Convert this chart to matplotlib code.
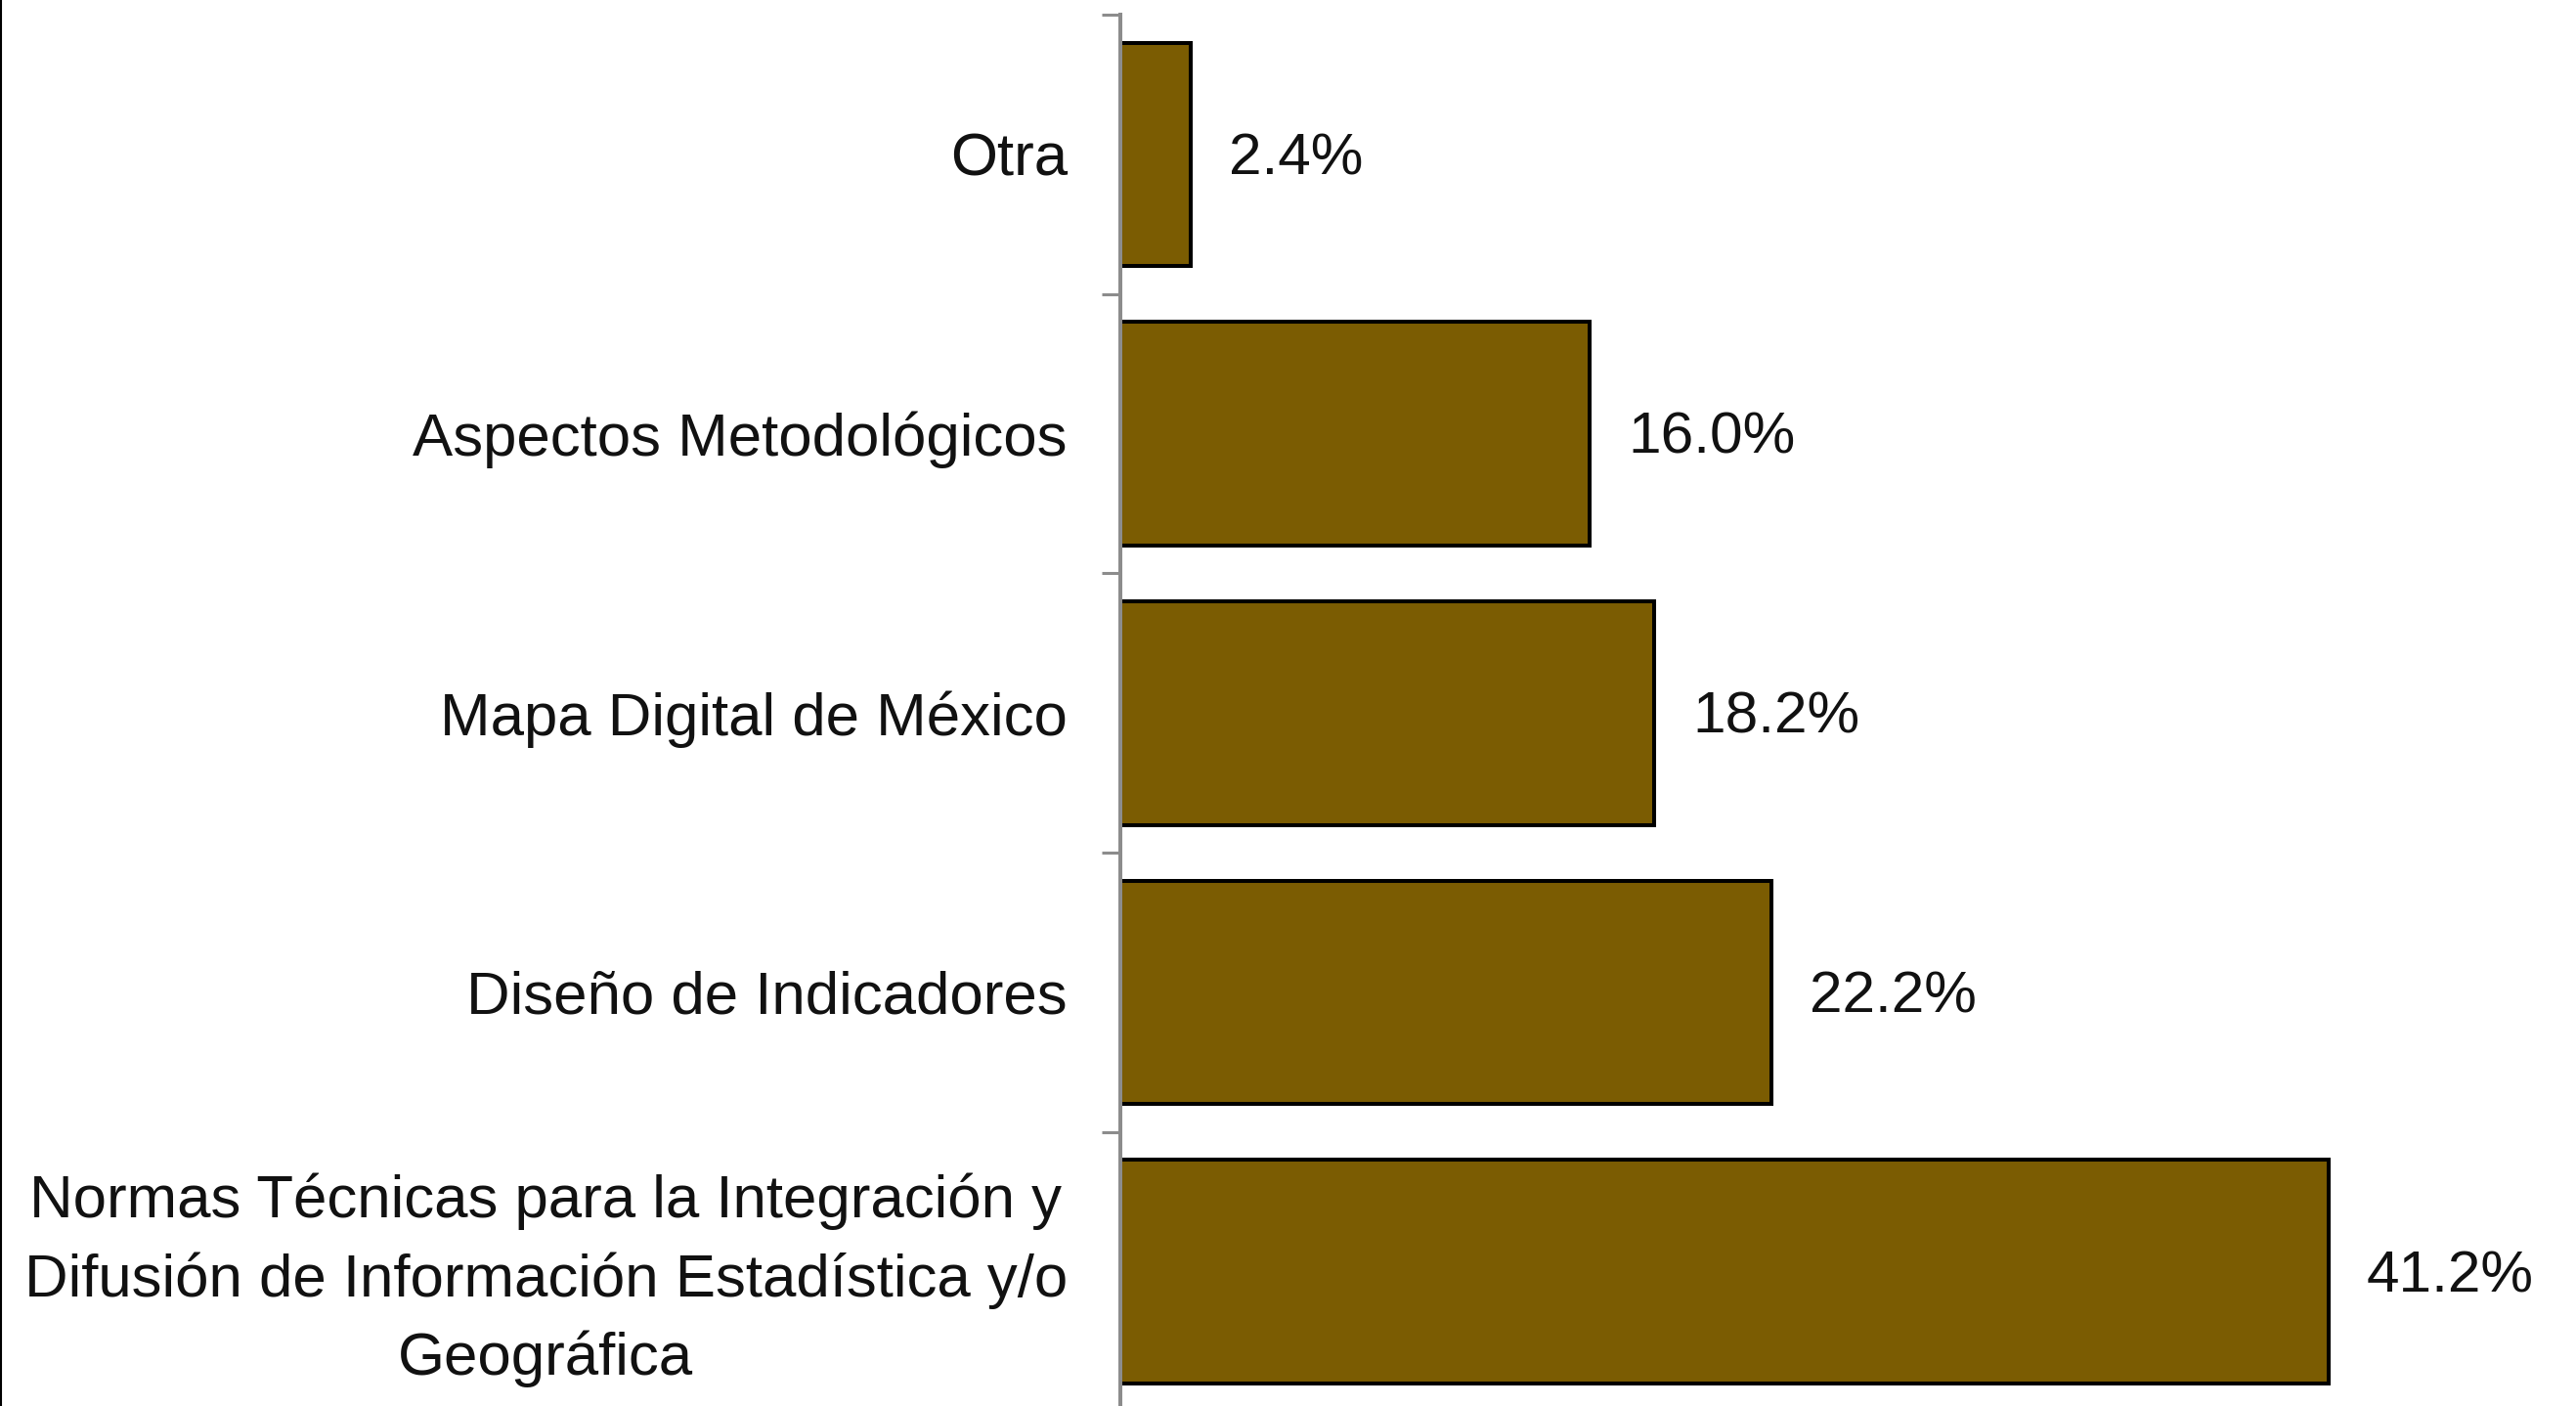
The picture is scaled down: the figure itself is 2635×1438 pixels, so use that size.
import matplotlib
matplotlib.use('Agg')
import matplotlib.pyplot as plt
from matplotlib.transforms import ScaledTranslation
import numpy as np

plt.rcParams['font.family'] = ['Liberation Sans', 'DejaVu Sans']

# datos (de arriba hacia abajo)
categorias = [
    'Otra',
    'Aspectos Metodológicos',
    'Mapa Digital de México',
    'Diseño de Indicadores',
    'Normas Técnicas para la Integración y\nDifusión de Información Estadística y/o\nGeográfica',
]
porcentajes = [2.4, 16.0, 18.2, 22.2, 41.2]
etiquetas = ['2.4%', '16.0%', '18.2%', '22.2%', '41.2%']

W, H, DPI = 2635, 1438, 100
fig = plt.figure(figsize=(W / DPI, H / DPI), dpi=DPI)

# ejes: línea vertical en x=1146 px, de y=15 px hasta fuera de la imagen
x0 = 1146 / W
top = 1 - 15 / H
paso = 285.7 / H
ax = fig.add_axes([x0, top - 5 * paso, 1 - x0, 5 * paso])

pos = np.arange(len(categorias))
ax.barh(pos, porcentajes, height=0.8, color='#7B5C02', edgecolor='black',
        linewidth=2.9, zorder=3)

ax.set_ylim(len(categorias) - 0.5, -0.5)
ax.set_xlim(0, (W - x0 * W) / 30.0)

for p, v, t in zip(pos, porcentajes, etiquetas):
    ax.annotate(t, xy=(v, p), xytext=(28, -3.5), textcoords='offset points',
                va='center', ha='left', fontsize=43.5, color='#111111')

# ticks en los límites de categoría (estilo Excel)
ax.set_yticks(np.arange(-0.5, len(categorias), 1.0))
ax.set_yticklabels([])
ax.tick_params(axis='y', which='major', length=14, width=2.2, color='#8C8C8C',
               direction='out')
ax.set_yticks(pos, minor=True)
ax.set_yticklabels(categorias, minor=True, fontsize=44.5, color='#111111',
                   multialignment='center', linespacing=1.48)
ax.tick_params(axis='y', which='minor', length=0, pad=39)

# la etiqueta de tres líneas queda un poco más arriba
lbl = ax.yaxis.get_minor_ticks()[-1].label1
lbl.set_transform(lbl.get_transform() + ScaledTranslation(0, 0.085, fig.dpi_scale_trans))

ax.set_xticks([])
for s in ['top', 'right', 'bottom']:
    ax.spines[s].set_visible(False)
ax.spines['left'].set_color('#8C8C8C')
ax.spines['left'].set_linewidth(2.9)
ax.spines['left'].set_zorder(4)

# borde izquierdo negro de la imagen
fig.add_artist(plt.Line2D([0.0004, 0.0004], [0, 1], color='black',
                          linewidth=1.5, transform=fig.transFigure))

fig.savefig('out.png', dpi=DPI, facecolor='white')
